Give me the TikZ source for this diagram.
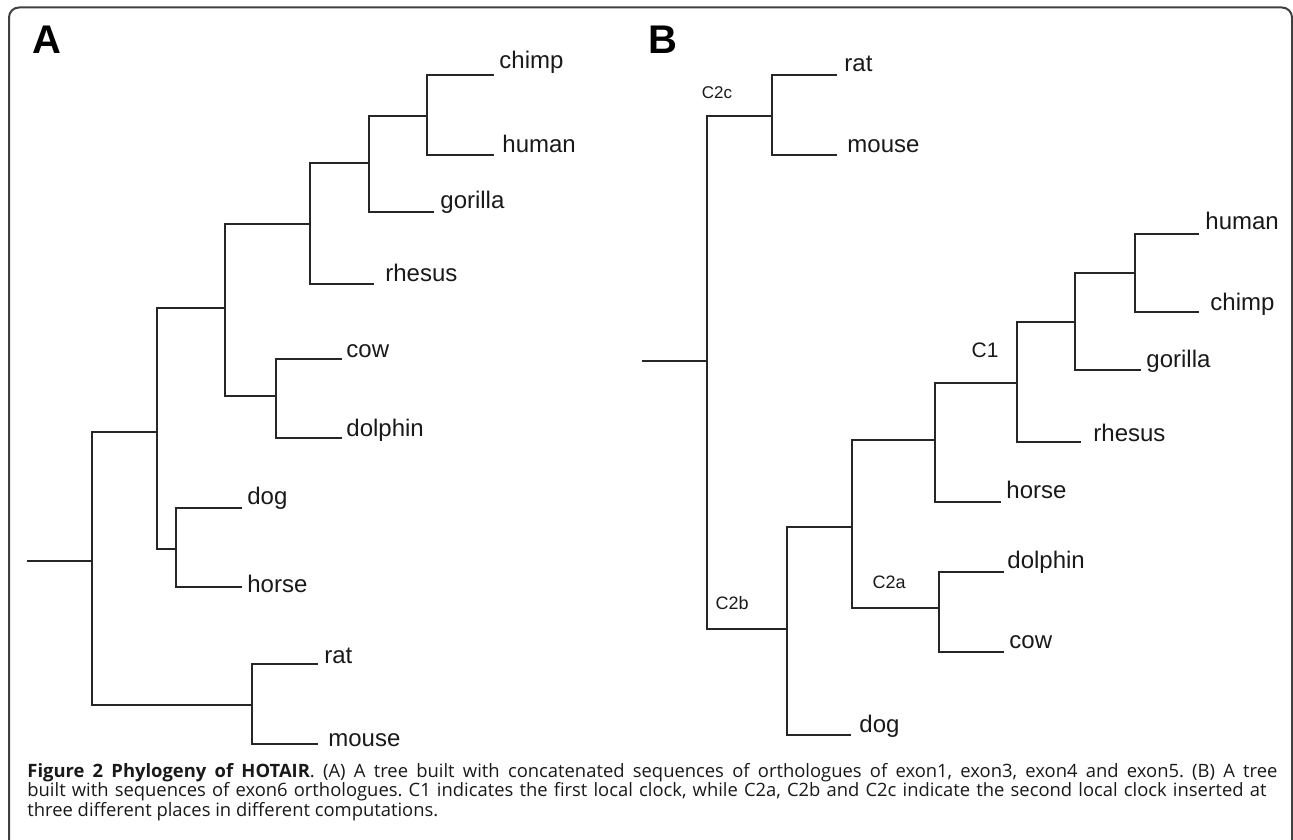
\documentclass[tikz,border=0pt]{standalone}
\usepackage{fontspec}
\setmainfont{Liberation Sans}
\newfontfamily\capfont{Open Sans}
\frenchspacing
\begin{document}
\begin{tikzpicture}[x=0.5pt,y=-0.5pt]
\tikzset{
  br/.style={line width=0.85pt, black!85, line cap=rect},
  leaf/.style={font=\fontsize{12}{14}\selectfont, inner sep=0pt, anchor=base west, text=black!90},
  clk/.style={inner sep=0pt, text=black!90},
  panel/.style={font=\bfseries\fontsize{20}{24}\selectfont, inner sep=0pt, anchor=base west},
  capline/.style={font=\capfont\fontsize{9.2}{11}\selectfont, inner sep=0pt, anchor=base west, text=black!90},
  frame/.style={line width=1pt, black!75}
}
\useasboundingbox (0,0) rectangle (1293,839);
% frame
\draw[frame] (9,850) -- (9,17.5) arc[start angle=180,end angle=270,radius=10] -- (1282,7.5) arc[start angle=270,end angle=360,radius=10] -- (1292,850);

% panel labels
\node[panel] (pA) at (32,54) {A};
\node[panel] (pB) at (648,54) {B};

%%%%%%%%%% Tree A
% leaf ends
\coordinate (Achimp) at (493,75);
\coordinate (Ahuman) at (493,155);
\coordinate (Agorilla) at (433,212);
\coordinate (Arhesus) at (373,284);
\coordinate (Acow) at (341,359);
\coordinate (Adolphin) at (341,438);
\coordinate (Adog) at (241,508);
\coordinate (Ahorse) at (241,587);
\coordinate (Arat) at (317,664);
\coordinate (Amouse) at (317,744);
% internal nodes
\coordinate (a1) at (427,116);
\coordinate (a2) at (369,163);
\coordinate (a3) at (310,224);
\coordinate (a4) at (276,396);
\coordinate (a5) at (225,308);
\coordinate (a6) at (176,549);
\coordinate (a7) at (157,432);
\coordinate (a8) at (252,705);
\coordinate (a9) at (92,561);
\coordinate (a0) at (28,561);
% labels
\node[leaf] (lAchimp) at (499,69) {chimp};
\node[leaf] (lAhuman) at (502,153) {human};
\node[leaf] (lAgorilla) at (440,209) {gorilla};
\node[leaf] (lArhesus) at (385,282) {rhesus};
\node[leaf] (lAcow) at (346,357) {cow};
\node[leaf] (lAdolphin) at (346,436) {dolphin};
\node[leaf] (lAdog) at (247,504) {dog};
\node[leaf] (lAhorse) at (247,592) {horse};
\node[leaf] (lArat) at (324,663) {rat};
\node[leaf] (lAmouse) at (328,746) {mouse};
% branches
\draw[br] (Achimp) -| (a1);
\draw[br] (Ahuman) -| (a1);
\draw[br] (a1) -| (a2);
\draw[br] (Agorilla) -| (a2);
\draw[br] (a2) -| (a3);
\draw[br] (Arhesus) -| (a3);
\draw[br] (Acow) -| (a4);
\draw[br] (Adolphin) -| (a4);
\draw[br] (a3) -| (a5);
\draw[br] (a4) -| (a5);
\draw[br] (Adog) -| (a6);
\draw[br] (Ahorse) -| (a6);
\draw[br] (a5) -| (a7);
\draw[br] (a6) -| (a7);
\draw[br] (Arat) -| (a8);
\draw[br] (Amouse) -| (a8);
\draw[br] (a7) -| (a9);
\draw[br] (a8) -| (a9);
\draw[br] (a0) -- (a9);

%%%%%%%%%% Tree B
\coordinate (Brat) at (836,75);
\coordinate (Bmouse) at (836,155);
\coordinate (Bhuman) at (1198,234);
\coordinate (Bchimp) at (1198,312);
\coordinate (Bgorilla) at (1140,370);
\coordinate (Brhesus) at (1080,442);
\coordinate (Bhorse) at (1000,502);
\coordinate (Bdolphin) at (1003,572);
\coordinate (Bcow) at (1003,652);
\coordinate (Bdog) at (850,735);
% internal
\coordinate (b1) at (772,116);
\coordinate (b2) at (1135,273);
\coordinate (b3) at (1075,322);
\coordinate (b4) at (1017,383);
\coordinate (b5) at (935,440);
\coordinate (b6) at (939,608);
\coordinate (b7) at (852,527);
\coordinate (b8) at (787,629);
\coordinate (b9) at (707,361);
\coordinate (b0) at (643,361);
% labels
\node[leaf] (lBrat) at (844,72) {rat};
\node[leaf] (lBmouse) at (847,153) {mouse};
\node[leaf] (lBhuman) at (1205,230) {human};
\node[leaf] (lBchimp) at (1210,310) {chimp};
\node[leaf] (lBgorilla) at (1146,367) {gorilla};
\node[leaf] (lBrhesus) at (1093,441) {rhesus};
\node[leaf] (lBhorse) at (1006,498) {horse};
\node[leaf] (lBdolphin) at (1007,568) {dolphin};
\node[leaf] (lBcow) at (1009,648) {cow};
\node[leaf] (lBdog) at (859,732) {dog};
% clock labels
\node[clk, font=\fontsize{8.5}{10}\selectfont] (C2c) at (717,93) {C2c};
\node[clk, font=\fontsize{9}{10}\selectfont] (C2b) at (732,603) {C2b};
\node[clk, font=\fontsize{9}{10}\selectfont] (C2a) at (889,582) {C2a};
\node[clk, font=\fontsize{10.5}{12}\selectfont] (C1) at (985,350) {C1};
% branches
\draw[br] (Brat) -| (b1);
\draw[br] (Bmouse) -| (b1);
\draw[br] (Bhuman) -| (b2);
\draw[br] (Bchimp) -| (b2);
\draw[br] (b2) -| (b3);
\draw[br] (Bgorilla) -| (b3);
\draw[br] (b3) -| (b4);
\draw[br] (Brhesus) -| (b4);
\draw[br] (b4) -| (b5);
\draw[br] (Bhorse) -| (b5);
\draw[br] (Bdolphin) -| (b6);
\draw[br] (Bcow) -| (b6);
\draw[br] (b5) -| (b7);
\draw[br] (b6) -| (b7);
\draw[br] (b7) -| (b8);
\draw[br] (Bdog) -| (b8);
\draw[br] (b1) -| (b9);
\draw[br] (b8) -| (b9);
\draw[br] (b0) -- (b9);

%%%%%%%%%% caption
\node[capline] (cap1) at (27,777) {\makebox[625pt][s]{\textbf{Figure 2 Phylogeny of HOTAIR}. (A) A tree built with concatenated sequences of orthologues of exon1, exon3, exon4 and exon5. (B) A tree}};
\node[capline] (cap2) at (27,796) {\makebox[619.5pt][s]{built with sequences of exon6 orthologues. C1 indicates the first local clock, while C2a, C2b and C2c indicate the second local clock inserted at}};
\node[capline] (cap3) at (27,816) {three different places in different computations.};
\end{tikzpicture}
\end{document}
